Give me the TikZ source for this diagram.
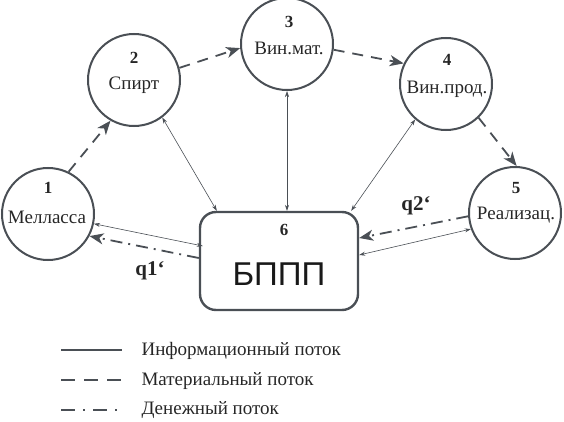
\documentclass[tikz,border=0pt]{standalone}
\usepackage{fontspec}
\setmainfont{Liberation Serif}
\newfontfamily\bsans{Liberation Sans}
\usetikzlibrary{arrows.meta,calc}
\definecolor{ln}{HTML}{4A4F55}
\begin{document}
\begin{tikzpicture}[x=1pt,y=-1pt,
  stage/.style={circle,draw=ln,line width=2pt,minimum size=92pt,inner sep=0pt},
  num/.style={font=\fontsize{17}{17}\selectfont\bfseries,text=black!85},
  lbl/.style={font=\fontsize{19}{19}\selectfont,text=black!85},
  info/.style={draw=ln,line width=0.6pt,{Stealth[length=6pt,width=4pt]}-{Stealth[length=6pt,width=4pt]}},
  mat/.style={draw=ln,line width=1.8pt,dash pattern=on 11pt off 8pt,-{Stealth[length=14pt,width=11pt,inset=4pt]}},
  money/.style={draw=ln,line width=1.8pt,dash pattern=on 12pt off 6pt on 2pt off 6pt,-{Stealth[length=14pt,width=11pt,inset=4pt]}},
  leg/.style={font=\fontsize{19}{19}\selectfont,text=black!85,anchor=west},
  ql/.style={font=\fontsize{21}{21}\selectfont\bfseries,text=black!85}]
\useasboundingbox (0,0) rectangle (564,422);
\node[stage] (c1) at (48,214) {};
\node[stage] (c2) at (134,80) {};
\node[stage] (c3) at (287,44) {};
\node[stage] (c4) at (446,84) {};
\node[stage] (c5) at (515,213) {};
\node[draw=ln,line width=2.4pt,rounded corners=16pt,minimum width=158pt,minimum height=98pt,inner sep=0pt] (b) at (279,261) {};
\node[num] (n1) at (48,188) {1};
\node[lbl] (t1) at (47,217) {Мелласса};
\node[num] (n2) at (134,58) {2};
\node[lbl] (t2) at (134,85) {Спирт};
\node[num] (n3) at (289,22) {3};
\node[lbl] (t3) at (289,48) {Вин.мат.};
\node[num] (n4) at (447,60) {4};
\node[lbl] (t4) at (447,89) {Вин.прод.};
\node[num] (n5) at (516,188) {5};
\node[lbl] (t5) at (516,215) {Реализац.};
\node[num] (n6) at (284,230) {6};
\node[font=\bsans\fontsize{33}{33}\selectfont,text=black!90] (t6) at (279,274) {БППП};
% material flows
\draw[mat] (c1.64) -- (c2.240);
\draw[mat] (c2.15) -- (c3.185);
\draw[mat] (c3.-7) -- (c4.154);
\draw[mat] (c4.-46) -- (c5.88);
% information flows
\draw[info] (c2.-53) -- ($(b.north west)+(18,0)$);
\draw[info] (c3.south) -- (c3.south |- b.north);
\draw[info] (c4.229) -- ($(b.north east)+(-8,0)$);
\draw[info] (c1.-12) -- ($(b.west)+(4,-15)$);
\draw[info] (c5.200) -- ($(b.east)+(0,-6)$);
% money flows
\draw[money] ($(b.west)+(0,-3)$) -- (c1.-28);
\draw[money] (c5.184) -- ($(b.east)+(0,-23)$);
\node[ql] (q1) at (150,271) {q1\symbol{96}};
\node[ql] (q2) at (416,206) {q2\symbol{96}};
% legend
\coordinate (l1a) at (61,350); \coordinate (l1b) at (122,350);
\coordinate (l2a) at (61,380); \coordinate (l2b) at (122,380);
\coordinate (l3a) at (61,410); \coordinate (l3b) at (122,410);
\draw[draw=ln,line width=1.2pt] (l1a) -- (l1b);
\draw[draw=ln,line width=1.6pt,dash pattern=on 14pt off 9pt] (l2a) -- (l2b);
\draw[draw=ln,line width=1.4pt,dash pattern=on 14pt off 8pt on 2pt off 8pt] (l3a) -- (l3b);
\node[leg] (g1) at (138,351) {Информационный поток};
\node[leg] (g2) at (138,381) {Материальный поток};
\node[leg] (g3) at (138,410) {Денежный поток};
\end{tikzpicture}
\end{document}
